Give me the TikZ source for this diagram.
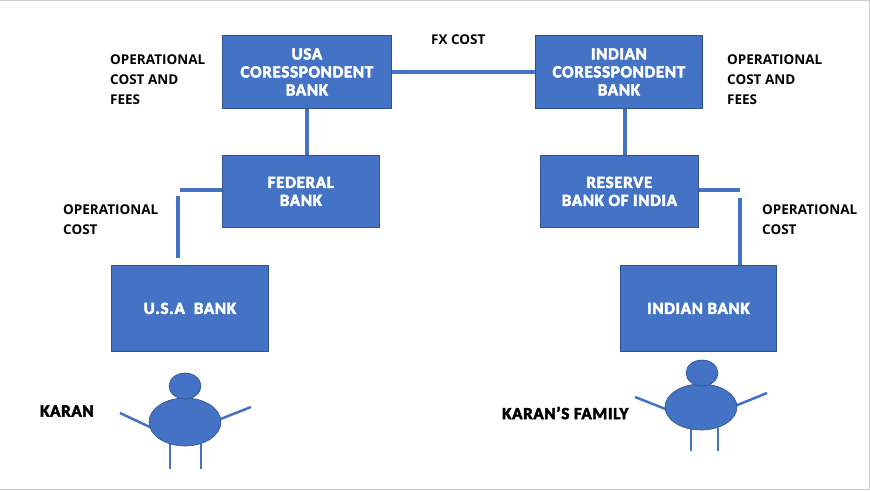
\documentclass[tikz,border=0pt]{standalone}
\usepackage{fontspec}
\setmainfont{Open Sans}
\newfontfamily\heavy{Carlito Bold}[FakeBold=3,LetterSpace=4]
\definecolor{bx}{HTML}{4472C4}
\definecolor{bd}{HTML}{2F528F}
\begin{document}
\begin{tikzpicture}[x=1pt,y=-1pt,
  box/.style={draw=bd,fill=bx,line width=0.8pt,text=white,font=\heavy\fontsize{17}{18}\selectfont,align=center,anchor=north west,inner sep=0pt},
  lab/.style={font=\bfseries\fontsize{13.5}{20}\selectfont,align=left,anchor=north west,inner sep=0pt},
  con/.style={draw=bx,line width=3.5pt},
  limb/.style={draw=bx,line width=2.5pt},
  body/.style={draw=bd,fill=bx,line width=0.6pt},
  who/.style={font=\heavy\fontsize{17}{18}\selectfont,anchor=west,inner sep=0pt}]
\path[use as bounding box] (0,0) rectangle (870,490);
\draw[gray!40,line width=1pt] (0,0) -- (869,0) -- (869,489) -- (0,489);
\node[box,minimum width=169pt,minimum height=73pt] (usac) at (222,35) {USA\\CORESSPONDENT\\BANK};
\node[box,minimum width=167pt,minimum height=73pt] (indc) at (535,35) {INDIAN\\CORESSPONDENT\\BANK};
\node[box,minimum width=157pt,minimum height=72pt] (fed) at (222,155) {FEDERAL\\BANK};
\node[box,minimum width=158pt,minimum height=72pt] (rbi) at (540,155) {RESERVE\\BANK OF INDIA};
\node[box,minimum width=157pt,minimum height=86pt] (usab) at (111,265) {U.S.A\ \ BANK};
\node[box,minimum width=156pt,minimum height=86pt] (indb) at (620,265) {INDIAN BANK};
\draw[con] (usac.east) -- (indc.west);
\coordinate (v1) at (307,100);
\coordinate (v2) at (625,100);
\draw[con] (usac.south-|v1) -- (fed.north-|v1);
\draw[con] (indc.south-|v2) -- (rbi.north-|v2);
\coordinate (f1) at (180,190);
\coordinate (f2) at (178,196);
\coordinate (r1) at (740,190);
\coordinate (r2) at (740,198);
\draw[con] (fed.west|-f1) -- (f1);
\draw[con] (f2) -- ([yshift=7pt]usab.north-|f2);
\draw[con] (rbi.east|-r1) -- (r1);
\draw[con] (r2) -- (indb.north-|r2);
\node[lab] (fx) at (431,35) {FX COST};
\node[lab] (l1) at (110,55) {OPERATIONAL\\COST AND\\FEES};
\node[lab] (l2) at (727,55) {OPERATIONAL\\COST AND\\FEES};
\node[lab] (l3) at (63,205) {OPERATIONAL\\COST};
\node[lab] (l4) at (762,205) {OPERATIONAL\\COST};
% Karan
\draw[limb] (120,413) -- (152,428);
\draw[limb] (218,420) -- (251,407);
\draw[limb] (170,444) -- (170,469);
\draw[limb] (201,444) -- (201,469);
\draw[body] (185,422) ellipse (36 and 24);
\draw[body] (185,386) ellipse (16 and 13);
\node[who] (k) at (40,411) {KARAN};
% Family
\draw[limb] (635,397) -- (668,410);
\draw[limb] (735,406) -- (767,393);
\draw[limb] (691,428) -- (691,451);
\draw[limb] (718,428) -- (718,451);
\draw[body] (701,407) ellipse (36 and 23);
\draw[body] (702,373) ellipse (16 and 13);
\node[who] (kf) at (502,413) {KARAN’S FAMILY};
\end{tikzpicture}
\end{document}
